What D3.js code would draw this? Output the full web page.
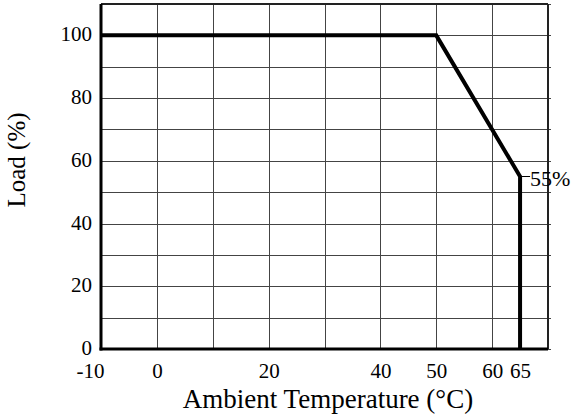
<!DOCTYPE html>
<html>
<head>
<meta charset="utf-8">
<script src="https://cdn.jsdelivr.net/npm/d3@7"></script>
<style>
  body { margin: 0; background: #fff; }
  svg { display: block; }
  .grid line { stroke: #444; stroke-width: 1; shape-rendering: crispEdges; }
</style>
</head>
<body>
<div id="chart"></div>
<script>
// derating curve: ambient temperature vs load
var temps = [-10, 50, 65, 65];
var loads = [100, 100, 55, 0];
var xTicks = [-10, 0, 20, 40, 50, 60, 65];
var yTicks = [0, 20, 40, 60, 80, 100];
var xGrid = [-10, 0, 10, 20, 30, 40, 50, 60, 70];
var yGrid = [0, 10, 20, 30, 40, 50, 60, 70, 80, 90, 100, 110];
var xDomain = [-10, 70];
var yDomain = [0, 110];
var markLabel = "55%";

var width = 574, height = 417;
var margin = { top: 4, right: 26, bottom: 68, left: 101 };
var serif = "'Liberation Serif', 'DejaVu Serif', 'Times New Roman', serif";

var svg = d3.select("#chart")
  .append("svg")
    .attr("width", width)
    .attr("height", height)
    .style("font-family", serif);

var x = d3.scaleLinear()
  .domain(xDomain)
  .range([margin.left, width - margin.right]);
var y = d3.scaleLinear()
  .domain(yDomain)
  .range([height - margin.bottom, margin.top]);

// grid
var grid = svg.append("g").classed("grid", true);
grid.selectAll(".vline")
  .data(xGrid)
  .enter().append("line")
    .attr("x1", function(d) { return Math.round(x(d)) + 0.5; })
    .attr("x2", function(d) { return Math.round(x(d)) + 0.5; })
    .attr("y1", y(yDomain[0]))
    .attr("y2", y(yDomain[1]));
grid.selectAll(".hline")
  .data(yGrid)
  .enter().append("line")
    .attr("x1", x(xDomain[0]))
    .attr("x2", x(xDomain[1]) + 3)
    .attr("y1", function(d) { return Math.round(y(d)) + 0.5; })
    .attr("y2", function(d) { return Math.round(y(d)) + 0.5; });

// frame: top and right thinner, left and bottom heavier
svg.append("line")
  .attr("x1", x(xDomain[0])).attr("x2", x(xDomain[1]))
  .attr("y1", y(yDomain[1])).attr("y2", y(yDomain[1]))
  .attr("stroke", "#222").attr("stroke-width", 2);
svg.append("line")
  .attr("x1", x(xDomain[1])).attr("x2", x(xDomain[1]))
  .attr("y1", y(yDomain[0])).attr("y2", y(yDomain[1]))
  .attr("stroke", "#222").attr("stroke-width", 2);

// axes
var xAxis = d3.axisBottom(x)
  .tickValues(xTicks)
  .tickSize(0)
  .tickPadding(14)
  .tickFormat(function(d) { return String(d); });
var yAxis = d3.axisLeft(y)
  .tickValues(yTicks)
  .tickSize(0)
  .tickPadding(9)
  .tickFormat(function(d) { return String(d); });

var xAxisGroup = svg.append("g")
  .attr("transform", "translate(0," + y(0) + ")")
  .call(xAxis);
var yAxisGroup = svg.append("g")
  .attr("transform", "translate(" + x(xDomain[0]) + ",0)")
  .call(yAxis);
xAxisGroup.select(".domain").remove();
yAxisGroup.select(".domain").remove();
svg.selectAll(".tick text")
  .attr("font-family", serif)
  .style("font-family", serif)
  .style("font-size", "21px")
  .attr("fill", "#000");
xAxisGroup.selectAll("text").attr("dy", "0.71em");
yAxisGroup.selectAll("text").attr("dy", "0.26em");
// the first label hangs left of its tick, as in the original
xAxisGroup.selectAll(".tick text")
  .filter(function(d) { return d === xDomain[0]; })
    .attr("text-anchor", "end")
    .attr("x", 3);

svg.append("line")
  .attr("x1", x(xDomain[0]) - 1.5).attr("x2", x(xDomain[1]))
  .attr("y1", y(0)).attr("y2", y(0))
  .attr("stroke", "#000").attr("stroke-width", 3);
svg.append("line")
  .attr("x1", x(xDomain[0])).attr("x2", x(xDomain[0]))
  .attr("y1", y(0) + 1.5).attr("y2", y(yDomain[1]))
  .attr("stroke", "#000").attr("stroke-width", 3);

// derating line
var points = temps.map(function(t, i) { return [t, loads[i]]; });
var line = d3.line()
  .x(function(d) { return x(d[0]); })
  .y(function(d) { return y(d[1]); });
svg.append("path")
  .attr("d", line(points))
  .attr("fill", "none")
  .attr("stroke", "#000")
  .attr("stroke-width", 4)
  .attr("stroke-linejoin", "miter");

// 55% marker
svg.append("line")
  .attr("x1", x(temps[2])).attr("x2", x(temps[2]) + 10)
  .attr("y1", y(loads[2])).attr("y2", y(loads[2]))
  .attr("stroke", "#000").attr("stroke-width", 1);
svg.append("text")
  .attr("x", x(temps[2]) + 10)
  .attr("y", y(loads[2]) + 9)
  .style("font-family", serif)
  .style("font-size", "22px")
  .text(markLabel);

// axis labels
svg.append("text")
  .attr("text-anchor", "middle")
  .attr("x", 328)
  .attr("y", 408)
  .style("font-family", serif)
  .style("font-size", "27px")
  .text("Ambient Temperature (°C)");
svg.append("text")
  .attr("text-anchor", "middle")
  .attr("transform", "translate(25,160) rotate(-90)")
  .style("font-family", serif)
  .style("font-size", "25px")
  .text("Load (%)");
</script>
</body>
</html>
